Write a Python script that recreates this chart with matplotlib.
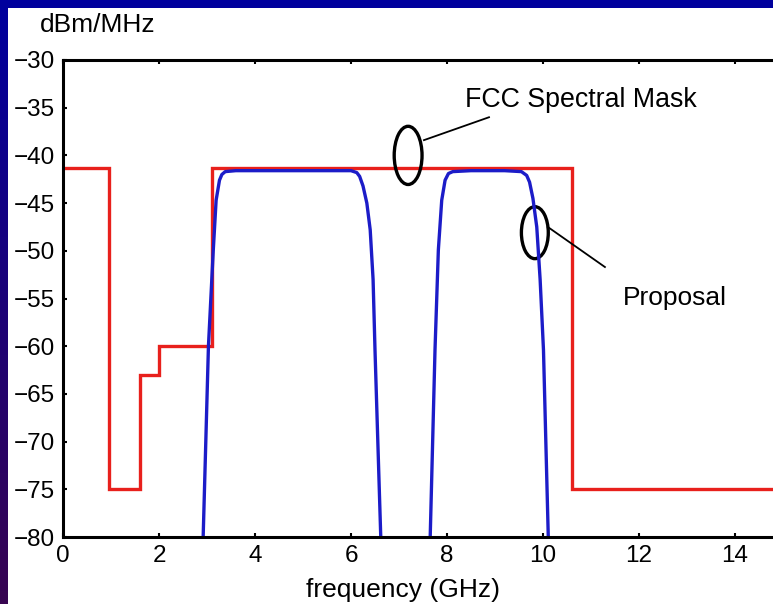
import matplotlib
matplotlib.use("Agg")
import matplotlib.pyplot as plt
import numpy as np
from matplotlib.patches import Ellipse, Rectangle

plt.rcParams['font.family'] = ['Liberation Sans', 'DejaVu Sans']

# FCC indoor spectral mask (step levels between edges, GHz / dBm/MHz)
mask_edges = [0, 0.96, 1.61, 1.99, 3.1, 10.6, 15]
mask_levels = [-41.3, -75, -63, -60, -41.3, -75]

# proposal spectrum, lower band
band1_freq = [2.92, 3.03, 3.13, 3.19, 3.26, 3.31, 3.38, 3.6, 4.5, 5.5, 6.0, 6.12, 6.18, 6.25, 6.33, 6.40, 6.46, 6.50, 6.62]
band1_dbm = [-80, -60, -50, -44.7, -42.6, -42.0, -41.7, -41.6, -41.6, -41.6, -41.6, -41.8, -42.2, -43.2, -45.0, -47.8, -53.0, -60.4, -80]

# proposal spectrum, upper band
band2_freq = [7.65, 7.75, 7.82, 7.89, 7.96, 8.03, 8.12, 8.5, 9.2, 9.55, 9.66, 9.72, 9.79, 9.87, 9.94, 10.01, 10.11]
band2_dbm = [-80, -60.4, -49.9, -44.7, -42.6, -41.9, -41.7, -41.6, -41.6, -41.7, -42.1, -42.8, -44.5, -47.5, -53.0, -60.4, -80]

xticks = [0, 2, 4, 6, 8, 10, 12, 14]
yticks = [-80, -75, -70, -65, -60, -55, -50, -45, -40, -35, -30]

fig = plt.figure(figsize=(7.73, 6.04), dpi=100)

# slide background: blue with a purple fade on the left edge, white page on top
bg = fig.add_axes([0, 0, 1, 1], zorder=-2)
grad = np.linspace(0, 1, 256).reshape(-1, 1)
top_col = np.array([0.0, 0.0, 0.62])
bot_col = np.array([0.22, 0.02, 0.32])
img = top_col + grad[:, :, None] * (bot_col - top_col)
bg.imshow(img, aspect='auto', extent=[0, 1, 0, 1], origin='upper')
bg.add_patch(Rectangle((8 / 773, 0), 1, 1 - 8 / 604, facecolor='white', edgecolor='none'))
bg.set_xlim(0, 1)
bg.set_ylim(0, 1)
bg.axis('off')

ax = fig.add_axes([63 / 773, 67 / 604, 720 / 773, 477 / 604])
ax.set_facecolor('none')

ax.stairs(mask_levels, mask_edges, baseline=None, color='#e8201c', linewidth=2.4)
ax.plot(band1_freq, band1_dbm, color='#1c1cc8', linewidth=2.4)
ax.plot(band2_freq, band2_dbm, color='#1c1cc8', linewidth=2.4)

ax.set_xlim(0, 15)
ax.set_ylim(-80, -30)
ax.set_xticks(xticks)
ax.set_yticks(yticks)
ax.tick_params(direction='in', length=3, width=1.5, labelsize=17.5,
               top=True, right=True, pad=6)
for s in ax.spines.values():
    s.set_linewidth(2.2)

ax.set_xlabel('frequency (GHz)', fontsize=19, labelpad=0)
ax.xaxis.set_label_coords(0.472, -0.086)
fig.text(40 / 773, 1 - 25 / 604, 'dBm/MHz', fontsize=19, va='center', ha='left')

# annotations
ax.add_patch(Ellipse((7.19, -40.0), 0.58, 6.1, fill=False, edgecolor='black', linewidth=2.4))
ax.plot([7.52, 8.875], [-38.4, -36.0], color='black', linewidth=1.3)
ax.text(8.375, -34.2, 'FCC Spectral Mask', fontsize=19.3, va='center', ha='left')

ax.add_patch(Ellipse((9.83, -48.1), 0.56, 5.45, fill=False, edgecolor='black', linewidth=2.4))
ax.plot([10.1, 11.29], [-47.5, -51.7], color='black', linewidth=1.3)
ax.text(11.67, -54.95, 'Proposal', fontsize=19, va='center', ha='left')

fig.savefig('out.png', dpi=100)
